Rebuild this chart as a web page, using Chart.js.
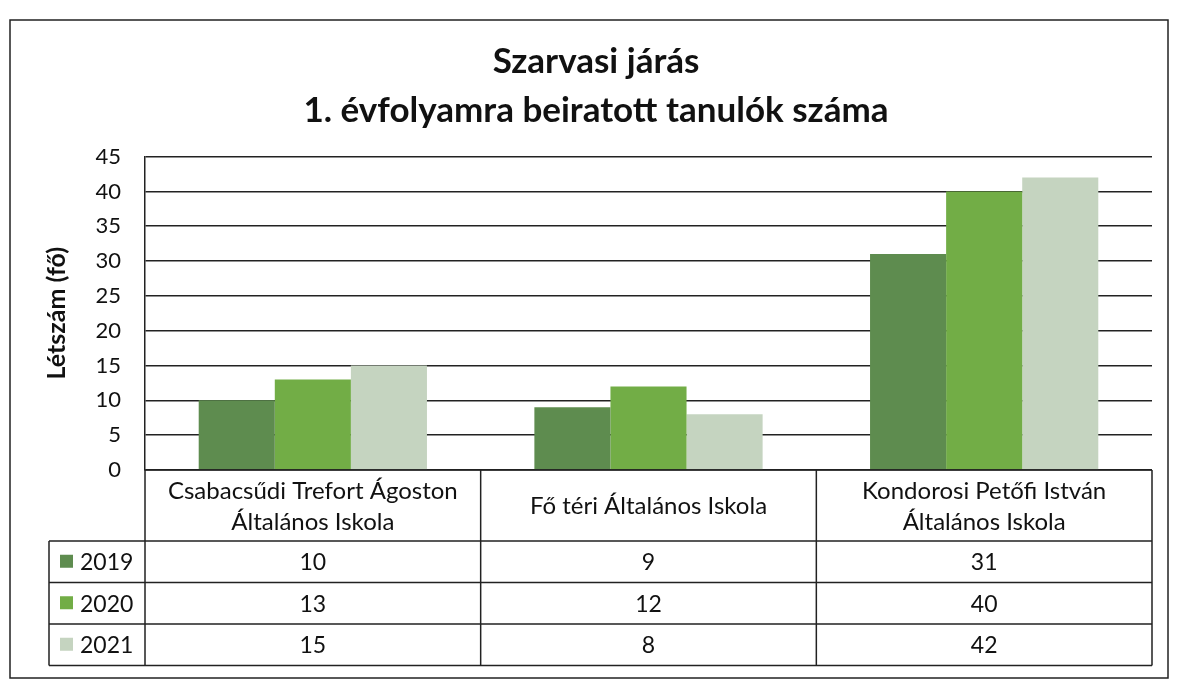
<!DOCTYPE html>
<html>
<head>
<meta charset="utf-8">
<script src="https://cdn.jsdelivr.net/npm/chart.js@4.4.1/dist/chart.umd.min.js"></script>
<style>
html,body{margin:0;padding:0;background:#fff;}
#wrap{width:1177px;height:683px;position:relative;}
</style>
</head>
<body>
<div id="wrap"><canvas id="c" width="1177" height="683"></canvas></div>
<script>
const categories = [
  ["Csabacsűdi Trefort Ágoston", "Általános Iskola"],
  ["Fő téri Általános Iskola"],
  ["Kondorosi Petőfi István", "Általános Iskola"]
];
const seriesNames = ["2019", "2020", "2021"];
const values2019 = [10, 9, 31];
const values2020 = [13, 12, 40];
const values2021 = [15, 8, 42];
const yTicks = [0, 5, 10, 15, 20, 25, 30, 35, 40, 45];
const titleLines = ["Szarvasi járás", "1. évfolyamra beiratott tanulók száma"];
const yTitle = "Létszám (fő)";

const colors = ["#5e8c4f", "#72ad46", "#c5d4c0"];
const FONT = "Lato, 'Liberation Sans', sans-serif";

const tablePlugin = {
  id: 'tablePlugin',
  afterDraw(chart) {
    const ctx = chart.ctx;
    const x = chart.scales.x;
    const area = chart.chartArea;
    const n = categories.length;
    const catW = (area.right - area.left) / n;
    const top = area.bottom;
    const headerBottom = top + 71;
    const rowH = 41.5;
    const tableBottom = headerBottom + rowH * 3;
    const legendLeft = 49;
    ctx.save();
    ctx.strokeStyle = "#222";
    ctx.lineWidth = 1.5;
    ctx.strokeRect(10, 20, 1158, 658);
    ctx.beginPath();
    for (let i = 0; i <= n; i++) {
      const px = area.left + i * catW;
      ctx.moveTo(px, top); ctx.lineTo(px, tableBottom);
    }
    ctx.moveTo(area.left, top); ctx.lineTo(area.right, top);
    for (let r = 0; r <= 3; r++) {
      const py = headerBottom + r * rowH;
      ctx.moveTo(legendLeft, py); ctx.lineTo(area.right, py);
    }
    ctx.moveTo(legendLeft, headerBottom); ctx.lineTo(legendLeft, tableBottom);
    ctx.stroke();

    ctx.fillStyle = "#111";
    ctx.textAlign = "center";
    ctx.textBaseline = "middle";
    ctx.font = "24px " + FONT;
    for (let i = 0; i < n; i++) {
      const cx = x.getPixelForValue(i);
      const lines = categories[i];
      const lh = 31;
      const cy = (top + headerBottom) / 2 + 1;
      lines.forEach((ln, k) => {
        ctx.fillText(ln, cx, cy + (k - (lines.length - 1) / 2) * lh);
      });
    }
    ctx.font = "23px " + FONT;
    const datasets = chart.data.datasets;
    datasets.forEach((ds, r) => {
      const cy = headerBottom + r * rowH + rowH / 2;
      ctx.fillStyle = ds.backgroundColor;
      ctx.fillRect(legendLeft + 11, cy - 7, 13, 13);
      ctx.fillStyle = "#111";
      ctx.textAlign = "left";
      ctx.fillText(ds.label, legendLeft + 31, cy + 1);
      ctx.textAlign = "center";
      ds.data.forEach((v, i) => {
        ctx.fillText(String(v), x.getPixelForValue(i), cy + 1);
      });
    });
    ctx.restore();
  }
};

new Chart(document.getElementById('c'), {
  type: 'bar',
  data: {
    labels: categories,
    datasets: [
      { label: seriesNames[0], data: values2019, backgroundColor: colors[0] },
      { label: seriesNames[1], data: values2020, backgroundColor: colors[1] },
      { label: seriesNames[2], data: values2021, backgroundColor: colors[2] }
    ]
  },
  options: {
    responsive: false,
    animation: false,
    layout: { padding: { left: 40, right: 25, top: 0, bottom: 213 } },
    datasets: { bar: { barPercentage: 1, categoryPercentage: 0.68 } },
    plugins: {
      legend: { display: false },
      tooltip: { enabled: false },
      title: {
        display: true,
        text: titleLines,
        color: "#111",
        font: { family: FONT, size: 35, weight: 'bold', lineHeight: 1.38 },
        padding: { top: 38, bottom: 22 }
      }
    },
    scales: {
      x: { display: false },
      y: {
        min: 0, max: 45,
        afterBuildTicks(scale) { scale.ticks = yTicks.map(v => ({ value: v })); },
        afterFit(scale) { scale.width = 105; },
        border: { display: true, color: "#222", width: 1.5 },
        grid: { color: "#222", lineWidth: 1.5, drawTicks: false },
        ticks: { color: "#111", font: { family: FONT, size: 22 }, padding: 24 },
        title: { display: true, text: yTitle, color: "#111", font: { family: FONT, size: 25, weight: 'bold' }, padding: 2 }
      }
    }
  },
  plugins: [tablePlugin]
});
</script>
</body>
</html>
